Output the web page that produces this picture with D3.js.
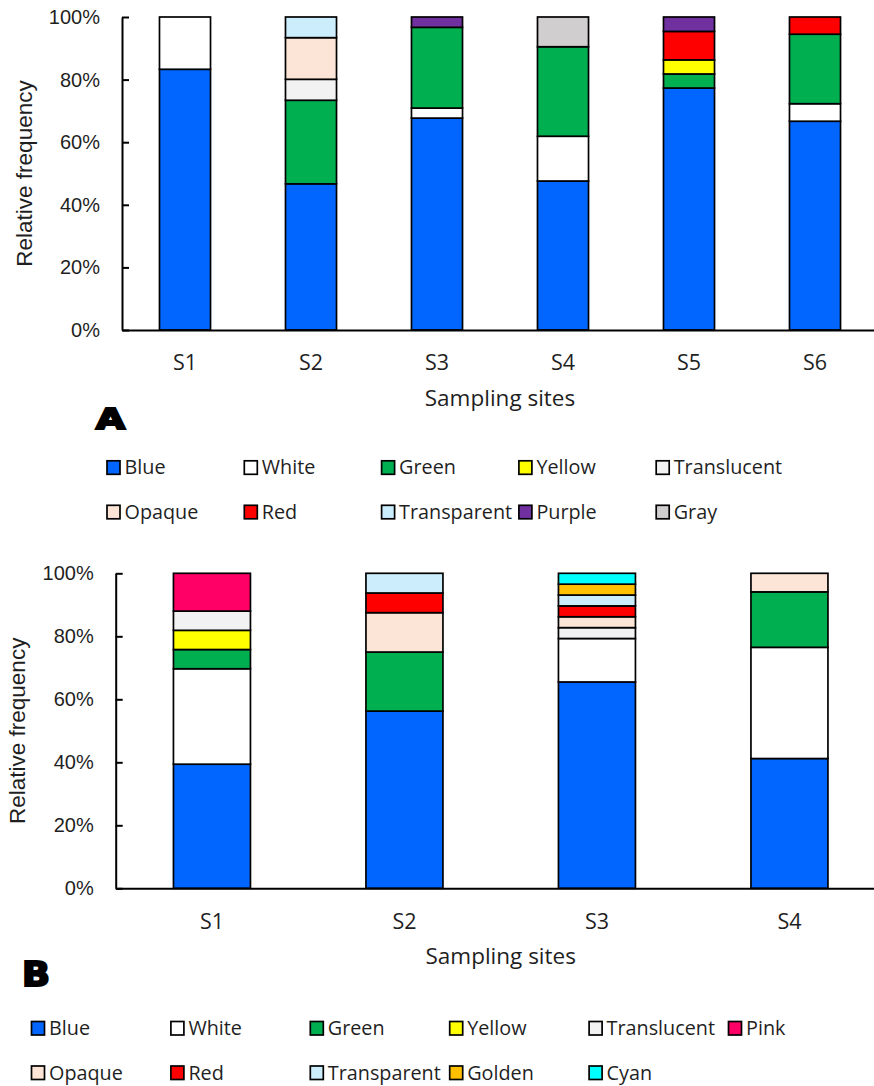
<!DOCTYPE html>
<html>
<head>
<meta charset="utf-8">
<script src="https://cdn.jsdelivr.net/npm/d3@7"></script>
<style>
  html, body { margin: 0; padding: 0; background: #fff; }
  svg { display: block; }
</style>
</head>
<body>
<svg id="chart" width="874" height="1086"></svg>
<script>
// ---------- DATA ----------
const yTickValues = [0, 20, 40, 60, 80, 100];

// Panel A
const sitesA = ["S1", "S2", "S3", "S4", "S5", "S6"];
const seriesA = ["Blue", "White", "Green", "Yellow", "Translucent", "Opaque", "Red", "Transparent", "Purple", "Gray"];
const blueA        = [83.3, 46.7, 67.7, 47.6, 77.3, 66.7];
const whiteA       = [16.7, 0, 3.2, 14.3, 0, 5.6];
const greenA       = [0, 26.7, 25.8, 28.6, 4.5, 22.2];
const yellowA      = [0, 0, 0, 0, 4.5, 0];
const translucentA = [0, 6.7, 0, 0, 0, 0];
const opaqueA      = [0, 13.3, 0, 0, 0, 0];
const redA         = [0, 0, 0, 0, 9.1, 5.5];
const transparentA = [0, 6.6, 0, 0, 0, 0];
const purpleA      = [0, 0, 3.3, 0, 4.6, 0];
const grayA        = [0, 0, 0, 9.5, 0, 0];
const legendRowsA  = [["Blue", "White", "Green", "Yellow", "Translucent"],
                      ["Opaque", "Red", "Transparent", "Purple", "Gray"]];

// Panel B
const sitesB = ["S1", "S2", "S3", "S4"];
const seriesB = ["Blue", "White", "Green", "Yellow", "Translucent", "Pink", "Opaque", "Red", "Transparent", "Golden", "Cyan"];
const blueB        = [39.4, 56.25, 65.5, 41.2];
const whiteB       = [30.3, 0, 13.8, 35.3];
const greenB       = [6.1, 18.75, 0, 17.6];
const yellowB      = [6.1, 0, 0, 0];
const translucentB = [6.1, 0, 3.45, 0];
const pinkB        = [12.0, 0, 0, 0];
const opaqueB      = [0, 12.5, 3.45, 5.9];
const redB         = [0, 6.25, 3.45, 0];
const transparentB = [0, 6.25, 3.45, 0];
const goldenB      = [0, 0, 3.45, 0];
const cyanB        = [0, 0, 3.45, 0];
const legendRowsB  = [["Blue", "White", "Green", "Yellow", "Translucent", "Pink"],
                      ["Opaque", "Red", "Transparent", "Golden", "Cyan"]];

const colors = {
  Blue: "#0066FF", White: "#FFFFFF", Green: "#00B050", Yellow: "#FFFF00",
  Translucent: "#F2F2F2", Opaque: "#FCE4D6", Red: "#FF0000", Transparent: "#CCEEFC",
  Purple: "#7030A0", Gray: "#D0CECE", Pink: "#FF0066", Golden: "#FFC000", Cyan: "#00FFFF"
};

const valuesA = { Blue: blueA, White: whiteA, Green: greenA, Yellow: yellowA, Translucent: translucentA,
  Opaque: opaqueA, Red: redA, Transparent: transparentA, Purple: purpleA, Gray: grayA };
const valuesB = { Blue: blueB, White: whiteB, Green: greenB, Yellow: yellowB, Translucent: translucentB,
  Pink: pinkB, Opaque: opaqueB, Red: redB, Transparent: transparentB, Golden: goldenB, Cyan: cyanB };

// ---------- DRAW ----------
const svg = d3.select("#chart");
const textColor = "#1f1f1f";

function drawPanel(cfg) {
  const { sites, series, values, x0, x1, yTop, yBottom, padInner, padOuter,
          yTitleX, letter, letterX, letterY, letterSize, letterLen, legendRows,
          legendX0, legendDX, legendY0, legendDY } = cfg;

  const table = sites.map((s, i) => {
    const row = { site: s };
    series.forEach(k => row[k] = values[k][i]);
    return row;
  });
  const stacked = d3.stack().keys(series)(table);

  const x = d3.scaleBand().domain(sites).range([x0, x1]).paddingInner(padInner).paddingOuter(padOuter);
  const y = d3.scaleLinear().domain([0, 100]).range([yBottom, yTop]);

  const g = svg.append("g");

  // bars
  stacked.forEach(layer => {
    g.append("g")
      .selectAll("rect")
      .data(layer.filter(d => d[1] - d[0] > 0))
      .join("rect")
      .attr("x", d => x(d.data.site))
      .attr("width", x.bandwidth())
      .attr("y", d => y(d[1]))
      .attr("height", d => y(d[0]) - y(d[1]))
      .attr("fill", colors[layer.key])
      .attr("stroke", "#000")
      .attr("stroke-width", 1.7);
  });

  // y axis
  const yAxis = d3.axisLeft(y).tickValues(yTickValues).tickFormat(d => d + "%")
    .tickSizeInner(-7).tickSizeOuter(0).tickPadding(22);
  const ya = g.append("g").attr("transform", `translate(${x0},0)`).call(yAxis);
  ya.selectAll("path, line").attr("stroke", "#000").attr("stroke-width", 2);
  ya.selectAll("text").attr("font-family", "'Liberation Sans', Arial, sans-serif")
    .attr("font-size", 20).attr("fill", textColor);

  // x axis
  const xAxis = d3.axisBottom(x).tickSize(0).tickSizeOuter(0).tickPadding(25);
  const xa = g.append("g").attr("transform", `translate(0,${yBottom})`).call(xAxis);
  xa.select(".domain").attr("stroke", "#000").attr("stroke-width", 2);
  xa.selectAll("text").attr("font-family", "'Open Sans', sans-serif")
    .attr("font-size", 21.5).attr("fill", textColor);

  // axis titles
  g.append("text")
    .attr("transform", `translate(${yTitleX},${(yTop + yBottom) / 2}) rotate(-90)`)
    .attr("text-anchor", "middle")
    .attr("font-family", "'Liberation Sans', Arial, sans-serif")
    .attr("font-size", 22.5).attr("fill", textColor)
    .text("Relative frequency");

  g.append("text")
    .attr("x", (x0 + x1) / 2)
    .attr("y", yBottom + 76)
    .attr("text-anchor", "middle")
    .attr("font-family", "'Open Sans', sans-serif")
    .attr("font-size", 22.5).attr("fill", textColor)
    .text("Sampling sites");

  // panel letter
  g.append("text")
    .attr("x", letterX).attr("y", letterY)
    .attr("font-family", "'DejaVu Sans', sans-serif")
    .attr("font-weight", "bold")
    .attr("font-size", letterSize)
    .attr("stroke", "#000").attr("stroke-width", 2.2)
    .attr("textLength", letterLen).attr("lengthAdjust", "spacingAndGlyphs")
    .attr("fill", "#000")
    .text(letter);

  // legend
  legendRows.forEach((row, r) => {
    row.forEach((name, c) => {
      const lx = legendX0 + c * legendDX;
      const ly = legendY0 + r * legendDY;
      g.append("rect")
        .attr("x", lx).attr("y", ly - 13.5)
        .attr("width", 13).attr("height", 13.5)
        .attr("fill", colors[name]).attr("stroke", "#000").attr("stroke-width", 1.7);
      g.append("text")
        .attr("x", lx + 17.5).attr("y", ly)
        .attr("font-family", "'Open Sans', sans-serif")
        .attr("font-size", 19.8).attr("fill", textColor)
        .text(name);
    });
  });
}

drawPanel({
  sites: sitesA, series: seriesA, values: valuesA,
  x0: 122, x1: 878, yTop: 17, yBottom: 330, padInner: 0.595, padOuter: 0.2975,
  yTitleX: 32, letter: "A", letterX: 96, letterY: 429, letterSize: 29, letterLen: 29,
  legendRows: legendRowsA, legendX0: 107, legendDX: 137.3, legendY0: 474.3, legendDY: 44.5
});

drawPanel({
  sites: sitesB, series: seriesB, values: valuesB,
  x0: 115.7, x1: 885.7, yTop: 573.3, yBottom: 888.3, padInner: 0.6, padOuter: 0.3,
  yTitleX: 25, letter: "B", letterX: 22, letterY: 986, letterSize: 34, letterLen: 28,
  legendRows: legendRowsB, legendX0: 31.5, legendDX: 139.4, legendY0: 1035, legendDY: 44.5
});
</script>
</body>
</html>
